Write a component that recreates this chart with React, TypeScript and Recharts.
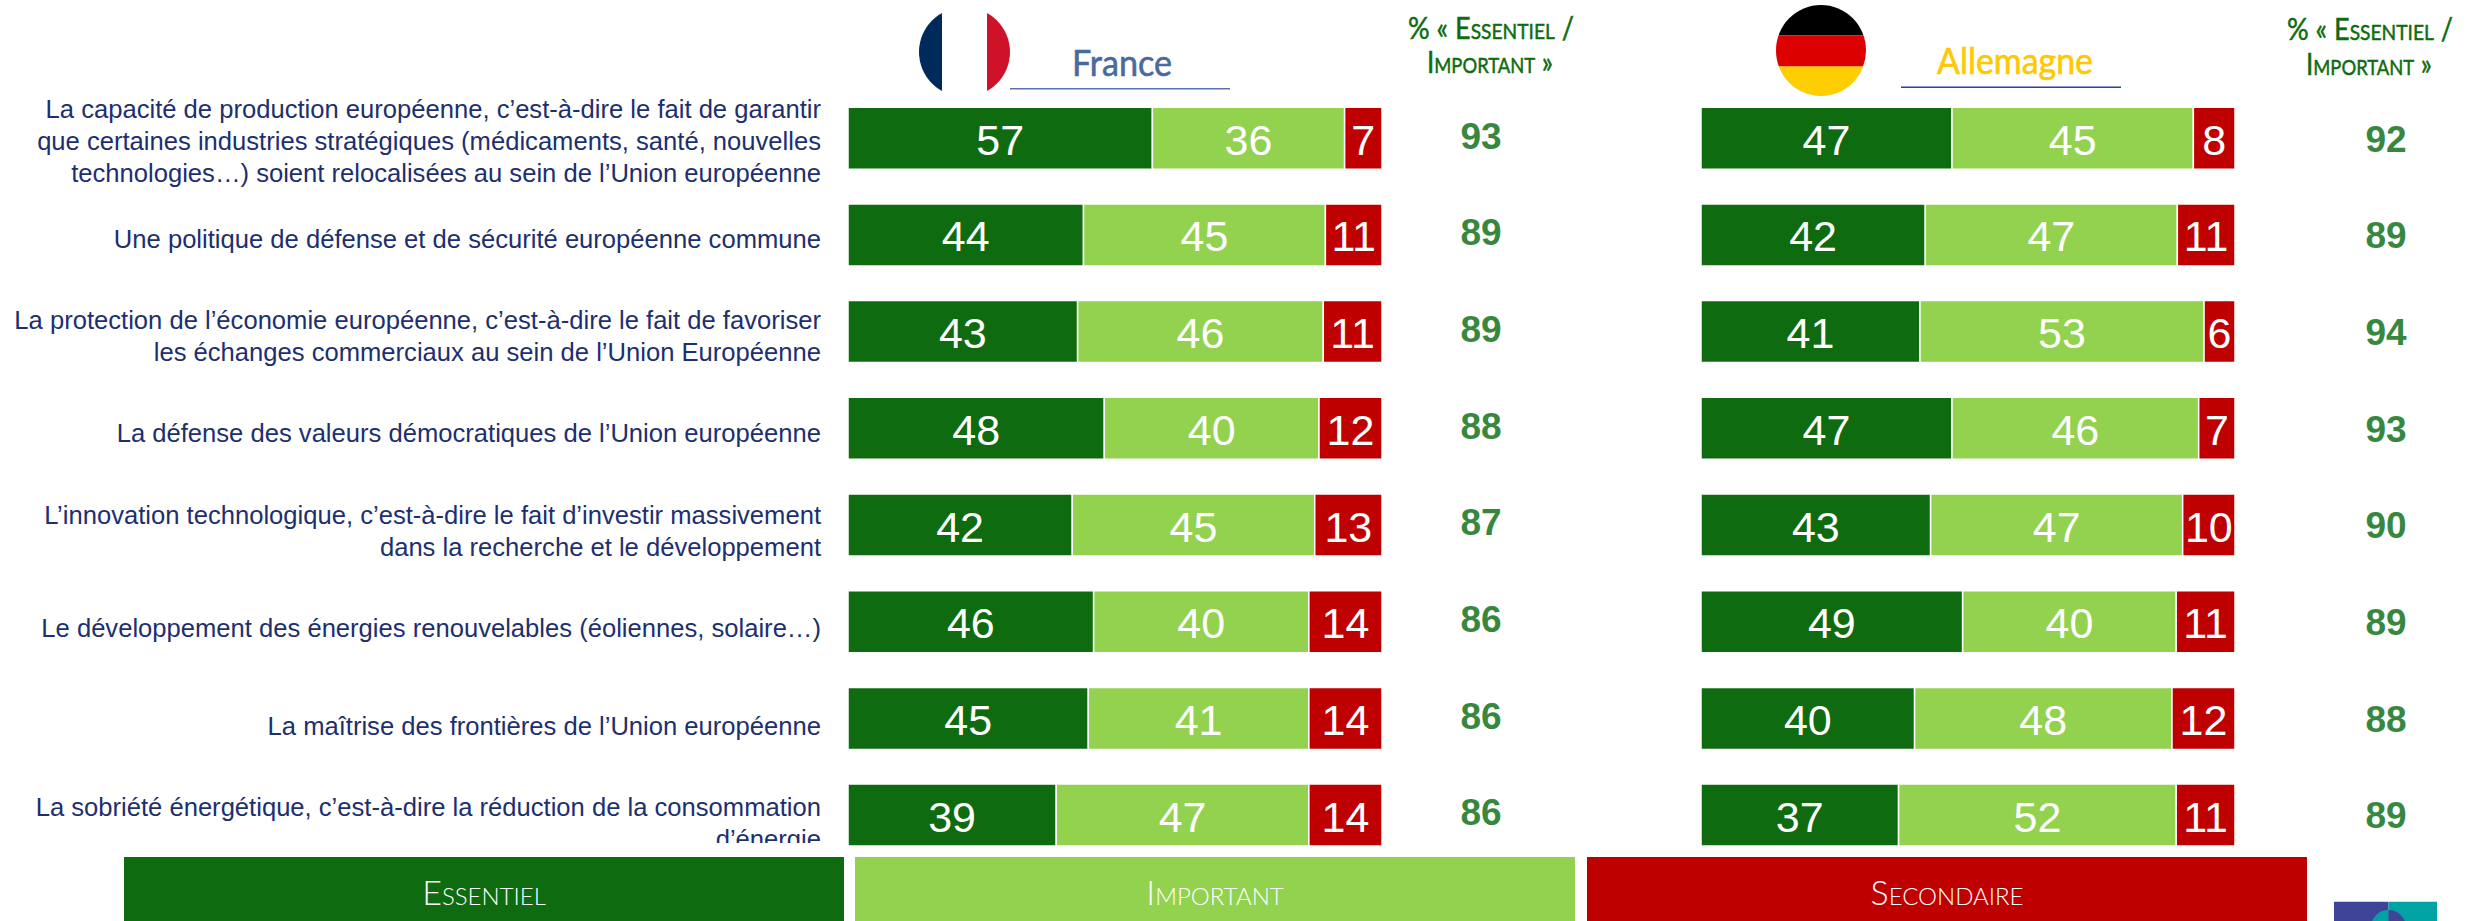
import React from "react";
import { BarChart, Bar, XAxis, YAxis, LabelList } from "recharts";

const categories = [
  ["La capacité de production européenne, c’est-à-dire le fait de garantir", "que certaines industries stratégiques (médicaments, santé, nouvelles", "technologies…) soient relocalisées au sein de l’Union européenne"],
  ["Une politique de défense et de sécurité européenne commune"],
  ["La protection de l’économie européenne, c’est-à-dire le fait de favoriser", "les échanges commerciaux au sein de l’Union Européenne"],
  ["La défense des valeurs démocratiques de l’Union européenne"],
  ["L’innovation technologique, c’est-à-dire le fait d’investir massivement", "dans la recherche et le développement"],
  ["Le développement des énergies renouvelables (éoliennes, solaire…)"],
  ["La maîtrise des frontières de l’Union européenne"],
  ["La sobriété énergétique, c’est-à-dire la réduction de la consommation", "d’énergie"],
];
const franceEssentiel = [57, 44.1, 43, 48, 42, 46, 45, 39];
const franceImportant = [36, 45.3, 46, 40.2, 45.4, 40.3, 41.3, 47.3];
const franceSecondaire = [7, 10.6, 11, 11.8, 12.6, 13.7, 13.7, 13.7];
const franceTotal = [93, 89, 89, 88, 87, 86, 86, 86];
const germanyEssentiel = [47, 42, 41, 47, 43, 49, 40, 37];
const germanyImportant = [45.2, 47.2, 53.2, 46.2, 47.2, 40, 48.2, 52];
const germanySecondaire = [7.8, 10.8, 5.8, 6.8, 9.8, 11, 11.8, 11];
const germanyTotal = [92, 89, 94, 93, 90, 89, 88, 89];
const seriesNames = ["Essentiel", "Important", "Secondaire"];
const seriesKeys = ["essentiel", "important", "secondaire"];
const seriesColors = ["#0f6b0f", "#92d24f", "#bf0000"];

const build = (a: number[], b: number[], c: number[], t: number[]) =>
  categories.map((lines, i) => ({ label: lines.join(" "), lines, essentiel: a[i], important: b[i], secondaire: c[i], total: t[i] }));
const franceData = build(franceEssentiel, franceImportant, franceSecondaire, franceTotal);
const germanyData = build(germanyEssentiel, germanyImportant, germanySecondaire, germanyTotal);

const ARIAL = "'Liberation Sans', Arial, sans-serif";
const TITLE = "Lato, 'Open Sans', sans-serif";

function CategoryTick({ y, index }: any) {
  const lines = categories[index] || [];
  const lh = 32.3;
  const start = y + 11.5 + index * 0.75 - ((lines.length - 1) * lh) / 2;
  return (
    <text textAnchor="end" fontFamily={ARIAL} fontSize={25.6} fill="#1d2f6f" clipPath="url(#labelClip)">
      {lines.map((l, i) => (
        <tspan key={i} x={821} y={start + i * lh}>{l}</tspan>
      ))}
    </text>
  );
}

const totalTick = (values: number[], dx: number, dy: number) => ({ x, y, index }: any) => (
  <text x={x + dx} y={y + dy} textAnchor="middle" fontFamily={ARIAL} fontWeight={700} fontSize={37} fill="#38873f">
    {values[index]}
  </text>
);

function Chart({ data, width, left, showLabels, totals, dx, dy }: any) {
  return (
    <div style={{ position: "absolute", left, top: 0 }}>
      <BarChart
        width={width}
        height={921}
        data={data}
        layout="vertical"
        barCategoryGap={0}
        margin={{ top: 90.2, bottom: 57.2, left: 0, right: 0 }}
      >
        <defs>
          <clipPath id="labelClip">
            <rect x={0} y={0} width={848} height={843} />
          </clipPath>
        </defs>
        <XAxis type="number" hide domain={[0, 100]} />
        <YAxis
          yAxisId="l"
          type="category"
          dataKey="label"
          width={showLabels ? 848 : 1}
          interval={0}
          axisLine={false}
          tickLine={false}
          tick={showLabels ? <CategoryTick /> : false}
        />
        <YAxis
          yAxisId="r"
          orientation="right"
          type="category"
          dataKey="label"
          width={200}
          interval={0}
          axisLine={false}
          tickLine={false}
          tick={totalTick(totals, dx, dy)}
        />
        {seriesKeys.map((k, i) => (
          <Bar key={k} yAxisId="l" dataKey={k} name={seriesNames[i]} stackId="a" fill={seriesColors[i]} stroke="#ffffff" strokeWidth={1.5} barSize={62} isAnimationActive={false}>
            <LabelList
              dataKey={k}
              content={(p: any) => (
                <text x={p.x + p.width / 2} y={p.y + p.height / 2 + 16.5} textAnchor="middle" fontFamily={ARIAL} fontSize={43} fill="#ffffff">
                  {Math.round(p.value)}
                </text>
              )}
            />
          </Bar>
        ))}
      </BarChart>
    </div>
  );
}

function HeaderPct({ cx, y1, y2 }: any) {
  const common: any = { textAnchor: "middle", fontFamily: TITLE, fill: "#0f6b0f", stroke: "#0f6b0f", strokeWidth: 0.5, fontSize: 31, lengthAdjust: "spacingAndGlyphs", style: { fontVariant: "small-caps" } };
  return (
    <>
      <text x={cx} y={y1} textLength={166} {...common}>% « Essentiel /</text>
      <text x={cx - 1} y={y2} textLength={126} {...common}>Important »</text>
    </>
  );
}

export default function App() {
  return (
    <div style={{ position: "absolute", left: 0, top: 0, width: 2471, height: 921, overflow: "hidden", background: "#fff" }}>
      <Chart data={franceData} width={1582} left={0} showLabels totals={franceTotal} dx={91} dy={10} />
      <Chart data={germanyData} width={735} left={1700} totals={germanyTotal} dx={143} dy={13} />
      <svg width={2471} height={921} style={{ position: "absolute", left: 0, top: 0, pointerEvents: "none" }}>
        <defs>
          <clipPath id="frFlag"><ellipse cx={964.5} cy={52} rx={45.5} ry={45} /></clipPath>
          <clipPath id="deFlag"><ellipse cx={1821} cy={50.5} rx={45} ry={45.5} /></clipPath>
          <clipPath id="logoClip"><rect x={2334} y={901.5} width={103} height={20} /></clipPath>
        </defs>
        <g clipPath="url(#frFlag)">
          <rect x={919} y={7} width={23} height={90} fill="#002a5c" />
          <rect x={987} y={7} width={23} height={90} fill="#ce1229" />
        </g>
        <g clipPath="url(#deFlag)">
          <rect x={1776} y={5} width={90} height={30.5} fill="#000000" />
          <rect x={1776} y={35.5} width={90} height={31} fill="#dd0000" />
          <rect x={1776} y={66.5} width={90} height={30} fill="#ffce00" />
        </g>
        <text x={1122} y={76} textAnchor="middle" fontFamily={TITLE} fontSize={36} fill="#4a6a9e" stroke="#4a6a9e" strokeWidth={0.6} textLength={100} lengthAdjust="spacingAndGlyphs">France</text>
        <rect x={1010} y={88} width={220} height={1.5} fill="#5a72b5" />
        <text x={2015} y={74} textAnchor="middle" fontFamily={TITLE} fontSize={36} fill="#ffc800" stroke="#ffc800" strokeWidth={0.6} textLength={156} lengthAdjust="spacingAndGlyphs">Allemagne</text>
        <rect x={1901} y={86.5} width={220} height={1.5} fill="#2f3f9f" />
        <HeaderPct cx={1491} y1={39} y2={73} />
        <HeaderPct cx={2370} y1={40} y2={75} />
        <rect x={124} y={857} width={720} height={64} fill={seriesColors[0]} />
        <rect x={855} y={857} width={720} height={64} fill={seriesColors[1]} />
        <rect x={1587} y={857} width={720} height={64} fill={seriesColors[2]} />
        {seriesNames.map((n, i) => (
          <text key={n} x={[484, 1215, 1947][i]} y={905} textAnchor="middle" fontFamily={TITLE} fontWeight={300} fontSize={34} fill="#ffffff" style={{ fontVariant: "small-caps" }}>{n}</text>
        ))}
        <g clipPath="url(#logoClip)">
          <rect x={2334} y={901.5} width={54.5} height={20} fill="#3f4499" />
          <rect x={2388.5} y={901.5} width={48.5} height={20} fill="#00a3a3" />
          <path d="M2388.5 910 A17.5 17.5 0 0 0 2371 927.5 L2388.5 927.5 Z" fill="#00a3a3" />
          <path d="M2388.5 910 A17.5 17.5 0 0 1 2406 927.5 L2388.5 927.5 Z" fill="#3f4499" />
        </g>
      </svg>
    </div>
  );
}
